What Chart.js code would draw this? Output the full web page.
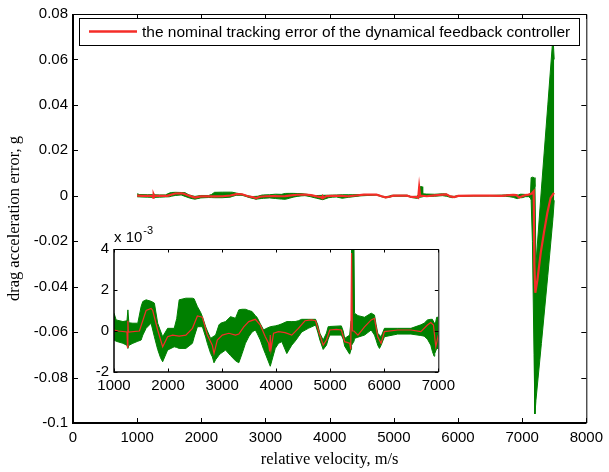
<!DOCTYPE html>
<html>
<head>
<meta charset="utf-8">
<script src="https://cdn.jsdelivr.net/npm/chart.js@4.4.0/dist/chart.umd.min.js"></script>
<style>
  body { margin: 0; background: #fff; }
  #wrap { position: relative; width: 609px; height: 472px; }
  #grafico { position: absolute; left: 0; top: 0; }
  #detalhe { position: absolute; left: 60px; top: 225px; }
</style>
</head>
<body>
<div id="wrap">
  <canvas id="grafico" width="609" height="472"></canvas>
  <canvas id="detalhe" width="400" height="175"></canvas>
</div>
<script>
// envelope of the dispersed runs (x 1e-3 g)
const bandVel = [
  1000, 1040, 1165, 1240, 1257, 1275, 1349, 1440, 1502, 1533,
  1594, 1686, 1747, 1808, 1860, 1900, 1992, 2114, 2160, 2206,
  2329, 2451, 2482, 2543, 2604, 2635, 2696, 2727, 2788, 2819,
  2850, 2880, 2942, 2972, 3064, 3156, 3247, 3309, 3370, 3432,
  3493, 3554, 3615, 3646, 3707, 3768, 3799, 3891, 3983, 4044,
  4105, 4197, 4289, 4350, 4411, 4472, 4595, 4729, 4770, 4809,
  4870, 4931, 4962, 4992, 5206, 5240, 5268, 5360, 5385, 5395,
  5440, 5450, 5513, 5635, 5758, 5819, 5850, 5880, 5911, 5941,
  6003, 6248, 6493, 6677, 6738, 6799, 6861, 6891, 6922, 6934,
  6970, 7000, 7050, 7100, 7130, 7140, 7160, 7185, 7200, 7215,
  7300, 7400, 7480, 7500
];
const bandUpper = [
  0.87, 0.54, 0.46, 0.5, 1.03, 0.4, 0.38, 0.38, 1.2, 1.44,
  1.52, 1.45, 1.36, 0.38, 0.0, -0.28, 0.13, 0.13, 0.6, 1.52,
  1.6, 1.6, 1.57, 1.19, 0.9, 0.7, 0.21, 0.0, -0.36, -0.3,
  -0.25, -0.2, 0.3, 0.38, 0.46, 0.7, 0.62, 1.03, 1.06, 1.06,
  1.0, 0.95, 0.75, 0.67, 0.35, 0.05, 0.1, 0.21, 0.25, 0.29,
  0.35, 0.46, 0.46, 0.46, 0.5, 0.57, 0.57, 0.57, 0.3, -0.11,
  -0.44, -0.1, 0.21, 0.22, 0.25, 0.0, -0.36, -0.2, 0.5, 4.0,
  4.0, 0.87, 0.75, 0.67, 0.87, 0.78, 0.3, -0.11, -0.2, -0.28,
  0.13, 0.13, 0.13, 0.3, 0.38, 0.54, 0.57, 0.57, 0.4, 0.21,
  0.67, 0.67, 0.6, 0.5, 1.0, 8.0, 8.2, 8.0, 4.0, -30,
  3, 40, 70, 60
];
const bandLower = [
  -0.44, -0.5, -0.6, -0.7, -0.85, -0.7, -0.6, -0.5, -0.44, -0.2,
  0.13, 0.38, -0.28, -0.9, -1.3, -1.5, -0.93, -0.77, -0.8, -0.85,
  -0.85, -0.6, -0.3, 0.21, 0.21, 0.21, -0.3, -0.6, -1.1, -1.26,
  -1.55, -1.4, -1.18, -1.1, -0.93, -1.2, -1.45, -1.55, -1.1, -0.6,
  -0.28, -0.05, 0.05, -0.1, -0.44, -0.9, -1.1, -1.72, -0.85, -0.6,
  -0.52, -1.1, -0.69, -0.5, -0.28, -0.05, 0.13, 0.29, -0.05, -0.44,
  -0.9, -0.69, -0.4, -0.2, -0.2, -0.4, -0.74, -1.13, -0.9, -0.7,
  -0.5, -0.36, -0.3, -0.2, 0.05, -0.2, -0.44, -0.7, -0.85, -0.7,
  -0.28, -0.15, -0.15, -0.22, -0.25, -0.4, -0.69, -1.0, -1.23, -1.1,
  -0.85, -0.85, -0.4, -0.4, -1.0, -2, -20, -70, -96, -90,
  -65, -35, -10, -2
];

// nominal tracking error (x 1e-3 g)
const nomVel = [
  1000, 1080, 1240, 1250, 1257, 1265, 1470, 1594, 1686, 1716,
  1808, 1900, 1992, 2084, 2206, 2329, 2451, 2543, 2635, 2727,
  2819, 2850, 2911, 3003, 3125, 3247, 3309, 3401, 3493, 3615,
  3707, 3799, 3860, 3880, 3891, 3905, 3952, 4044, 4166, 4289,
  4411, 4533, 4656, 4729, 4809, 4870, 4931, 4992, 5114, 5206,
  5268, 5360, 5380, 5395, 5410, 5440, 5513, 5635, 5758, 5819,
  5880, 5941, 6003, 6248, 6493, 6677, 6799, 6861, 6910, 6953,
  7000, 7050, 7100, 7150, 7180, 7190, 7205, 7238, 7290, 7341,
  7393, 7444, 7496
];
const nomErr = [
  0.05, 0.0, -0.05, -0.8, 0.5, -0.05, 0.0, 1.0, 1.1, 1.0,
  0.05, -0.77, -0.28, -0.2, -0.25, -0.2, 0.13, 0.73, 0.67, -0.2,
  -0.69, -1.1, -0.44, -0.2, -0.11, -0.2, -0.15, 0.2, 0.46, 0.57,
  0.29, -0.28, -0.6, -1.0, -0.2, -0.9, -0.11, -0.03, -0.08, -0.2,
  0.13, 0.5, 0.54, 0.5, -0.2, -0.69, -0.44, 0.05, 0.08, 0.05,
  -0.52, -0.6, -0.9, 3.8, 0.0, 0.0, -0.2, 0.2, 0.54, 0.62,
  -0.28, -0.6, -0.03, 0.05, 0.05, -0.03, 0.29, 0.41, 0.29, -0.77,
  -0.2, 0.3, 0.5, 1.0, 2.0, -30, -42.7, -37, -25, -16,
  -7.5, -0.9, 1.3
];

const LEGENDA = 'the nominal tracking error of the dynamical feedback controller';
const TITULO_X = 'relative velocity, m/s';
const TITULO_Y = 'drag acceleration error, g';
const VERDE = 'rgb(0,128,0)';
const VERMELHO = 'rgb(245,45,40)';
const FONTE = '"Liberation Sans", Arial, sans-serif';
const SERIFA = '"Liberation Serif", "Times New Roman", serif';

function pontos(vel, vals, k) {
  return vel.map((v, i) => ({ x: v, y: vals[i] * k }));
}

function criarDatasets(k, larguraNominal) {
  return [
    { label: LEGENDA, data: pontos(nomVel, nomErr, k), borderColor: VERMELHO,
      borderWidth: larguraNominal, pointRadius: 0, fill: false, tension: 0 },
    { label: 'upper', data: pontos(bandVel, bandUpper, k), borderColor: VERDE,
      backgroundColor: VERDE, borderWidth: 1, pointRadius: 0, fill: '+1', tension: 0 },
    { label: 'lower', data: pontos(bandVel, bandLower, k), borderColor: VERDE,
      borderWidth: 1, pointRadius: 0, fill: false, tension: 0 }
  ];
}

// box around the axes with inward ticks on all four sides
const caixaMatlab = {
  id: 'caixaMatlab',
  afterDatasetsDraw(chart, args, opts) {
    const { ctx, chartArea: a, scales: { x, y } } = chart;
    const len = opts.tick;
    ctx.save();
    ctx.strokeStyle = '#000';
    ctx.lineWidth = 1;
    ctx.beginPath();
    x.ticks.forEach((t) => {
      const px = Math.round(x.getPixelForValue(t.value)) + 0.5;
      ctx.moveTo(px, a.bottom); ctx.lineTo(px, a.bottom - len);
      ctx.moveTo(px, a.top); ctx.lineTo(px, a.top + len);
    });
    y.ticks.forEach((t) => {
      const py = Math.round(y.getPixelForValue(t.value)) + 0.5;
      ctx.moveTo(a.left, py); ctx.lineTo(a.left + len, py);
      ctx.moveTo(a.right, py); ctx.lineTo(a.right - len, py);
    });
    ctx.stroke();
    ctx.lineWidth = opts.linha;
    ctx.beginPath();
    ctx.moveTo(a.left, a.top); ctx.lineTo(a.left, a.bottom); ctx.lineTo(a.right, a.bottom);
    ctx.stroke();
    ctx.lineWidth = 1;
    ctx.beginPath();
    ctx.moveTo(a.left, a.top + 0.5); ctx.lineTo(a.right + 0.5, a.top + 0.5); ctx.lineTo(a.right + 0.5, a.bottom);
    ctx.stroke();
    ctx.restore();
  }
};

const legendaCaixa = {
  id: 'legendaCaixa',
  afterDraw(chart) {
    const { ctx, chartArea: a } = chart;
    const ds = chart.data.datasets[0];
    const x0 = a.left + 6, y0 = a.top + 4, w = 500, h = 27;
    ctx.save();
    ctx.fillStyle = '#fff';
    ctx.fillRect(x0, y0, w, h);
    ctx.strokeStyle = '#000';
    ctx.lineWidth = 1;
    ctx.strokeRect(x0 + 0.5, y0 + 0.5, w, h);
    ctx.strokeStyle = ds.borderColor;
    ctx.lineWidth = 2.5;
    ctx.beginPath();
    ctx.moveTo(x0 + 10, y0 + h / 2); ctx.lineTo(x0 + 58, y0 + h / 2);
    ctx.stroke();
    ctx.fillStyle = '#000';
    ctx.font = '15.5px ' + FONTE;
    ctx.textBaseline = 'middle';
    ctx.fillText(ds.label, x0 + 63, y0 + h / 2 + 1);
    ctx.restore();
  }
};

// white plot area and the "x 10^-3" multiplier for the zoomed axes
const fundoExpoente = {
  id: 'fundoExpoente',
  beforeDatasetsDraw(chart) {
    const { ctx, chartArea: a } = chart;
    ctx.save();
    ctx.fillStyle = '#fff';
    ctx.fillRect(a.left, a.top, a.right - a.left, a.bottom - a.top);
    ctx.restore();
  },
  afterDraw(chart) {
    const { ctx, chartArea: a } = chart;
    ctx.save();
    ctx.fillStyle = '#000';
    ctx.textBaseline = 'alphabetic';
    ctx.font = '15px ' + FONTE;
    ctx.fillText('x 10', a.left, a.top - 7);
    const w = ctx.measureText('x 10').width;
    ctx.font = '11px ' + FONTE;
    ctx.fillText('-3', a.left + w + 1, a.top - 15);
    ctx.restore();
  }
};

function eixo(min, max, passo, fmt, pad, fit, titulo) {
  const e = {
    type: 'linear', min: min, max: max,
    grid: { display: false, drawTicks: false }, border: { display: false },
    ticks: { stepSize: passo, autoSkip: false, maxRotation: 0, padding: pad,
             color: '#000', font: { family: FONTE, size: 15 }, callback: fmt },
    afterFit: fit
  };
  if (titulo) e.title = titulo;
  return e;
}

const fmtNum = (v) => String(+v.toFixed(2));

new Chart(document.getElementById('grafico'), {
  type: 'line',
  data: { datasets: criarDatasets(0.001, 2.2) },
  options: {
    responsive: false, animation: false,
    layout: { padding: { top: 14, right: 18, left: 0, bottom: 0 } },
    plugins: { legend: { display: false }, tooltip: { enabled: false },
               caixaMatlab: { tick: 5, linha: 2 } },
    scales: {
      x: eixo(0, 8000, 1000, fmtNum, 6, (s) => { s.height = 49; },
        { display: true, text: TITULO_X, color: '#000',
          font: { family: SERIFA, size: 16.5 }, padding: { top: 0, bottom: 2 } }),
      y: eixo(-0.1, 0.08, 0.02, fmtNum, 5, (s) => { s.width = 73; },
        { display: true, text: TITULO_Y, color: '#000',
          font: { family: SERIFA, size: 16.5 }, padding: { top: 5, bottom: 0 } })
    }
  },
  plugins: [caixaMatlab, legendaCaixa]
});

new Chart(document.getElementById('detalhe'), {
  type: 'line',
  data: { datasets: criarDatasets(1, 1.2) },
  options: {
    responsive: false, animation: false,
    layout: { padding: { top: 24, right: 19, left: 0, bottom: 0 } },
    plugins: { legend: { display: false }, tooltip: { enabled: false },
               caixaMatlab: { tick: 3.5, linha: 1.5 } },
    scales: {
      x: eixo(1000, 7000, 1000, fmtNum, 5, (s) => { s.height = 28; }),
      y: eixo(-2, 4, 2, fmtNum, 5, (s) => { s.width = 54; })
    }
  },
  plugins: [fundoExpoente, caixaMatlab]
});
</script>
</body>
</html>
